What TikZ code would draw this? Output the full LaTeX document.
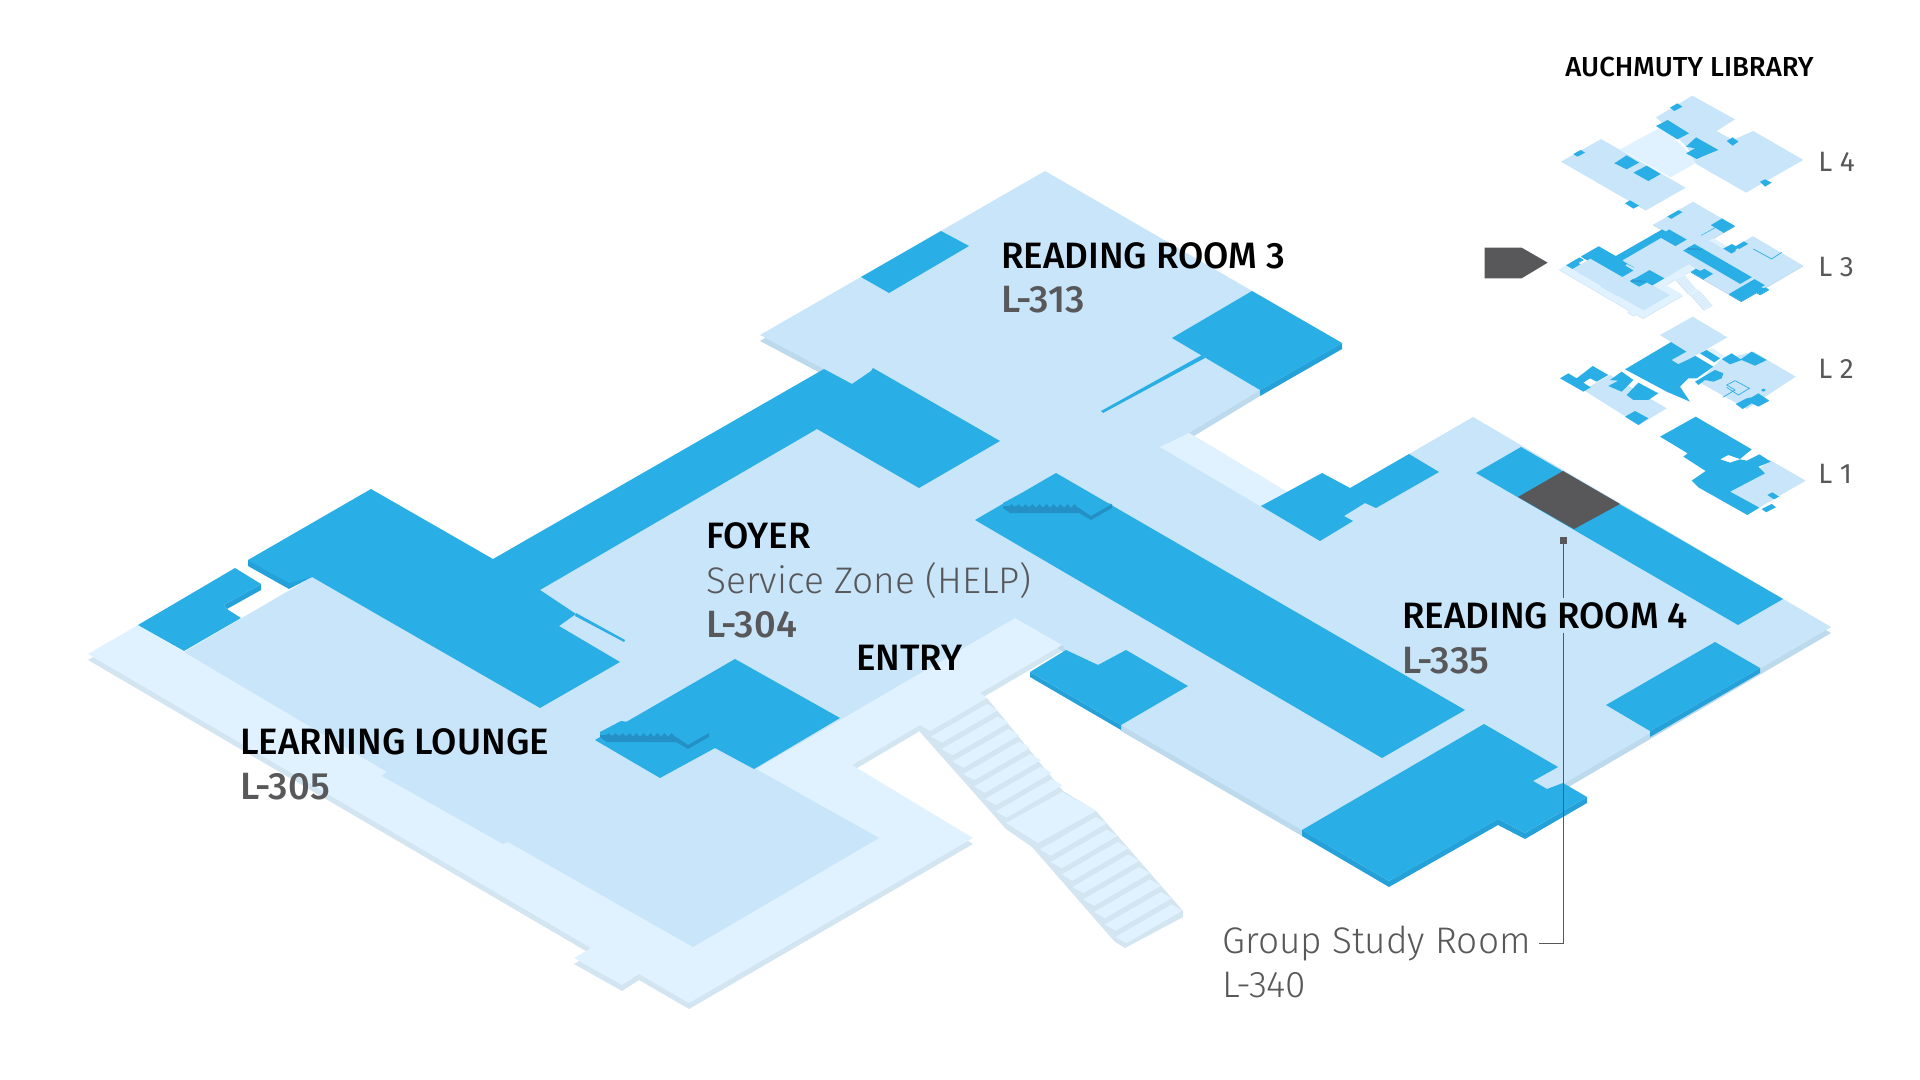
\documentclass[tikz,border=0pt]{standalone}
\usepackage{fontspec}
\setmainfont{Fira Sans}[BoldFont={Fira Sans Medium}]
\newfontfamily\lightfont{Fira Sans Light}
\usetikzlibrary{positioning}
\definecolor{RoomBlue}{HTML}{29AFE6}
\definecolor{RoomSide}{HTML}{25A1DA}
\definecolor{StairDark}{HTML}{2590C6}
\definecolor{FloorMid}{HTML}{C9E5F9}
\definecolor{FloorSide}{HTML}{BDD9EC}
\definecolor{HallPale}{HTML}{E0F2FF}
\definecolor{HallSide}{HTML}{D2E5F0}
\definecolor{MarkGrey}{HTML}{58585A}
\tikzstyle{floor} = [fill=FloorMid]
\tikzstyle{floor side} = [fill=FloorSide]
\tikzstyle{hall} = [fill=HallPale]
\tikzstyle{hall side} = [fill=HallSide]
\tikzstyle{room} = [fill=RoomBlue]
\tikzstyle{room side} = [fill=RoomSide]
\tikzstyle{stair dark} = [fill=StairDark]
\tikzstyle{thin wall} = [draw=RoomBlue, line width=0.35pt]
\tikzstyle{grey room} = [fill=MarkGrey]
\tikzstyle{leader} = [draw=MarkGrey, line width=0.45pt]
\tikzstyle{leader dot} = [fill=MarkGrey, minimum size=3.5pt, inner sep=0pt]
\tikzstyle{room name} = [anchor=base west, inner sep=0pt, font=\fontsize{18.35}{20}\selectfont\bfseries, text=black]
\tikzstyle{room code} = [anchor=base west, inner sep=0pt, font=\fontsize{19}{20}\selectfont\bfseries, text=MarkGrey]
\tikzstyle{room note} = [anchor=base west, inner sep=0pt, font=\fontsize{18.5}{20}\selectfont\lightfont, text=MarkGrey]
\tikzstyle{level name} = [anchor=base west, inner sep=0pt, font=\fontsize{14}{16}\selectfont, text=MarkGrey]
\newcommand{\mainoutline}{(1045,171) -- (1342,343) -- (1260,390) -- (1189,433) -- (1287,492) -- (1320,510) -- (1409,454) -- (1473,417) -- (1831,627) -- (1565,783) -- (1547,789) -- (1400,870) -- (1302,830) -- (1121,725) -- (1100,680) -- (1066,650) -- (1062,645) -- (1015,618) -- (756,769) -- (660,778) -- (540,708) -- (540,590) -- (817,429) -- (852,390) -- (852,384) -- (824,369) -- (760,335) -- cycle}
\newcommand{\halloutline}{(88,654) -- (138,625) -- (184,652) -- (500,760) -- (756,769) -- (1015,618) -- (1062,645) -- (980,693) -- (987,698) -- (930,731) -- (920,725) -- (852,765) -- (973,838) -- (689,1003) -- (639,974) -- (622,985) -- (574,958) -- (591,948) -- cycle}
\newcommand{\bluestair}[1]{
	\begin{scope}[shift={#1}]
		\fill[room] (0,0) -- (21,-11) -- (109,1) -- (88,13) -- (76,5) -- (0,5) -- cycle;
		\fill[stair dark] (0,3) -- (0,5) -- (7,10) -- (76,10) -- (88,17) -- (109,5) -- (109,1) -- (88,13) -- (76,5) -- cycle;
		\foreach \t in {0,...,9}
			\fill[stair dark] ({5+7*\t},5) -- ++(3.5,-4) -- ++(3.5,4) -- cycle;
	\end{scope}
}
\newcommand{\floorplan}{
	\fill[floor side, shift={(0,6)}] \mainoutline;
	\fill[hall side, shift={(0,6)}] \halloutline;
	% outside stairs
	\fill[hall side] (987,698) -- (1063,791) -- (1096,811) -- (1183,911) -- (1183,917) -- (1125,948) -- (1115,942) -- (1032,847) -- (1006,829) -- (920,732) -- (920,725) -- cycle;
	\foreach \s in {0,...,6}
		\fill[hall] ({987+10.8*\s},{704+12.5*\s}) -- ++(10.8,6.2) -- ++(-56,32.5) -- ++(-10.8,-6.2) -- cycle;
	\fill[hall] (1062,792) -- (1096,811) -- (1038,843) -- (1006,823) -- cycle;
	\foreach \s in {0,...,7}
		\fill[hall] ({1096+10.8*\s},{817+12.5*\s}) -- ++(10.8,6.2) -- ++(-56,32.5) -- ++(-10.8,-6.2) -- cycle;
	\fill[floor] \mainoutline;
	\fill[hall] \halloutline;
	\fill[hall] (1160,447) -- (1189,433) -- (1287,492) -- (1260,506) -- cycle;
	\fill[floor] (184,652) -- (387,772) -- (382,776) -- (503,844) -- (508,842) -- (693,947) -- (879,838) -- (756,769) -- (715,748) -- (660,778) -- (595,740) -- (540,708) -- (312,577) -- cycle;
	% rooms
	\fill[room side] (248,560) -- (248,566) -- (289,589) -- (312,577) -- cycle;
	\fill[room] (371,489) -- (493,559) -- (824,369) -- (852,384) -- (871,371) -- (873,368) -- (1000,441) -- (919,488) -- (817,429) -- (540,590) -- (576,614) -- (559,626) -- (620,662) -- (540,708) -- (312,577) -- (289,583) -- (248,560) -- cycle;
	\fill[room] (576,613) -- (625,640) -- (624,642) -- (575,616) -- cycle;
	\fill[room side] (261,584) -- (261,590) -- (227,609) -- (224,605) -- cycle;
	\fill[room] (235,568) -- (261,584) -- (224,605) -- (227,609) -- (241,618) -- (184,651) -- (138,625) -- cycle;
	\fill[room] (941,231) -- (969,246) -- (889,293) -- (861,277) -- cycle;
	\fill[room side] (1342,343) -- (1342,349) -- (1260,396) -- (1260,390) -- cycle;
	\fill[room] (1252,291) -- (1342,343) -- (1260,390) -- (1172,338) -- cycle;
	\fill[room] (1202,355) -- (1205,358) -- (1103,413) -- (1101,411) -- cycle;
	\fill[room] (735,659) -- (840,718) -- (754,769) -- (715,748) -- (660,778) -- (595,740) -- cycle;
	\bluestair{(600,732)}
	\fill[room] (1056,473) -- (1465,710) -- (1382,758) -- (975,520) -- cycle;
	\bluestair{(1003,503)}
	\fill[room] (1409,454) -- (1439,472) -- (1376,508) -- (1365,503) -- (1344,516) -- (1353,521) -- (1320,541) -- (1261,506) -- (1287,492) -- (1322,473) -- (1350,488) -- cycle;
	\fill[room side] (1587,797) -- (1587,803) -- (1525,839) -- (1498,825) -- (1389,887) -- (1302,836) -- (1302,830) -- (1389,881) -- (1498,819) -- (1525,833) -- cycle;
	\fill[room] (1484,724) -- (1558,767) -- (1533,781) -- (1547,789) -- (1563,783) -- (1587,797) -- (1525,833) -- (1498,819) -- (1389,881) -- (1302,830) -- cycle;
	\fill[room side] (1030,672) -- (1030,677) -- (1121,730) -- (1121,725) -- cycle;
	\fill[room] (1030,672) -- (1066,650) -- (1098,665) -- (1126,650) -- (1188,686) -- (1121,725) -- cycle;
}
\begin{document}
\begin{tikzpicture}[x=0.5pt,y=-0.5pt]
	\useasboundingbox (0,0) rectangle (1920,1080);
	\floorplan
	\fill[room] (1521,447) -- (1783,599) -- (1738,625) -- (1476,473) -- cycle;
	\fill[grey room] (1563,471) -- (1620,504) -- (1574,529) -- (1518,497) -- cycle;
	\fill[room side] (1760,668) -- (1760,673) -- (1650,737) -- (1650,731) -- cycle;
	\fill[room] (1715,642) -- (1760,668) -- (1650,731) -- (1606,705) -- cycle;

	% level 3 in the stack is the same plan made small
	\begin{scope}[shift={(1546.7,177.8)},scale=0.14]
		\floorplan
	\end{scope}
	\begin{scope}[shift={(1550,195)},scale=1/3]
		\path[thin wall] (610,162) -- (665,192) -- (695,172);
	\end{scope}

	% level 4
	\begin{scope}[shift={(1440,30)},scale=1/3]
		\fill[hall] (540,358) -- (665,290) -- (775,395) -- (692,442) -- cycle;
		\fill[floor] (757,197) -- (885,268) -- (830,303) -- (878,330) -- (940,303) -- (1090,390) -- (918,488) -- (770,403) -- (740,350) -- (648,262) -- cycle;
		\fill[floor] (483,327) -- (737,473) -- (617,542) -- (363,395) -- cycle;
		\fill[room] (690,233) -- (712,220) -- (727,230) -- (703,243) -- cycle;
		\fill[room] (648,288) -- (683,270) -- (747,310) -- (712,328) -- cycle;
		\fill[room] (738,350) -- (768,322) -- (835,360) -- (805,372) -- (770,387) -- (738,370) -- (765,355) -- cycle;
		\fill[room] (860,333) -- (878,322) -- (895,335) -- (878,347) -- cycle;
		\fill[room] (960,455) -- (975,448) -- (995,458) -- (975,470) -- cycle;
		\fill[room] (400,372) -- (422,360) -- (435,368) -- (412,380) -- cycle;
		\fill[room] (523,400) -- (560,376) -- (597,398) -- (560,418) -- cycle;
		\fill[room] (580,428) -- (620,407) -- (662,432) -- (625,453) -- cycle;
		\fill[room] (555,520) -- (570,511) -- (597,527) -- (580,536) -- cycle;
		% pointer at level 3
		\fill[grey room] (134,653) -- (245,653) -- (323,698) -- (245,745) -- (134,745) -- cycle;
	\end{scope}

	% level 2
	\begin{scope}[shift={(1550,310)},scale=1/3]
		\fill[floor] (510,150) -- (610,125) -- (737,200) -- (590,297) -- (445,215) -- cycle;
		\fill[floor] (100,240) -- (180,195) -- (350,295) -- (267,345) -- cycle;
		\fill[room] (225,178) -- (365,95) -- (490,170) -- (440,205) -- (415,205) -- (390,230) -- (420,275) -- (350,245) -- cycle;
		\fill[floor] (428,20) -- (532,82) -- (440,135) -- (415,148) -- (385,162) -- (365,150) -- (410,125) -- (330,75) -- cycle;
		\fill[hall] (470,118) -- (488,115) -- (525,140) -- (510,145) -- cycle;
		\fill[room] (450,130) -- (470,120) -- (510,145) -- (493,157) -- cycle;
		\fill[room] (515,147) -- (545,130) -- (572,148) -- (605,125) -- (650,150) -- (615,167) -- (575,150) -- (540,163) -- cycle;
		\fill[room] (435,215) -- (495,180) -- (520,190) -- (515,205) -- (490,215) -- (465,210) -- (445,225) -- cycle;
		\fill[room] (557,282) -- (590,265) -- (605,262) -- (625,250) -- (658,272) -- (625,290) -- (605,280) -- (578,297) -- cycle;
		\fill[room] (633,240) -- (640,236) -- (648,240) -- (640,245) -- cycle;
		\path[thin wall] (518,262) -- (555,240) -- (530,225) -- (555,212) -- (598,235) -- (565,255) -- (530,232);
		\fill[room] (30,205) -- (55,190) -- (80,205) -- (128,168) -- (175,195) -- (140,215) -- (120,205) -- (100,218) -- (122,232) -- (100,245) -- cycle;
		\fill[room] (180,210) -- (215,185) -- (250,210) -- (215,245) -- (175,228) -- (205,212) -- cycle;
		\fill[room] (230,255) -- (265,218) -- (325,250) -- (295,270) -- (250,270) -- cycle;
		\fill[room] (225,320) -- (255,303) -- (295,325) -- (265,345) -- cycle;
	\end{scope}

	% level 1
	\begin{scope}[shift={(1640,410)},scale=1/3]
		\fill[floor] (390,150) -- (497,212) -- (345,300) -- (270,245) -- cycle;
		\fill[room] (60,80) -- (167,20) -- (335,118) -- (300,147) -- (265,135) -- (240,148) -- (270,158) -- (300,148) -- (320,152) -- (358,133) -- (392,155) -- (355,170) -- (375,190) -- (270,245) -- (358,293) -- (322,315) -- (175,232) -- (155,212) -- (197,183) -- (130,140) -- (143,130) -- cycle;
		\fill[room] (382,255) -- (397,247) -- (417,260) -- (402,268) -- cycle;
		\fill[room] (365,297) -- (395,282) -- (408,292) -- (378,307) -- cycle;
	\end{scope}

	\node[leader dot] (groupdot) at (1563,540) {};
	\coordinate (groupbend) at (1563,943);
	\coordinate (groupend) at (1539,943);
	\draw[leader] (groupdot) -- (groupbend) -- (groupend);

	\node[room name] (rr3) at (1001,269) {READING ROOM 3};
	\node[room code] (rr3code) at (1001,313) {L-313};
	\node[room name] (foyer) at (706,548) {FOYER};
	\node[room note] (service) at (706,593) {Service Zone (HELP)};
	\node[room code] (foyercode) at (706,637) {L-304};
	\node[room name] (entry) at (856,670) {ENTRY};
	\node[room name] (lounge) at (240,754) {LEARNING LOUNGE};
	\node[room code] (loungecode) at (240,799) {L-305};
	\node[room name, fill=FloorMid, inner ysep=2pt] (rr4) at (1402,628) {READING ROOM 4};
	\node[room code] (rr4code) at (1402,673) {L-335};
	\node[room note] (group) at (1222,953) {Group Study Room};
	\node[room note] (groupcode) at (1222,997) {L-340};

	\node[room name, font=\fontsize{13.75}{16}\selectfont\bfseries] (library) at (1565,77) {AUCHMUTY LIBRARY};
	\node[level name] (level4) at (1818,172) {L 4};
	\node[level name] (level3) at (1818,277) {L 3};
	\node[level name] (level2) at (1818,379) {L 2};
	\node[level name] (level1) at (1818,483) {L 1};
\end{tikzpicture}
\end{document}
